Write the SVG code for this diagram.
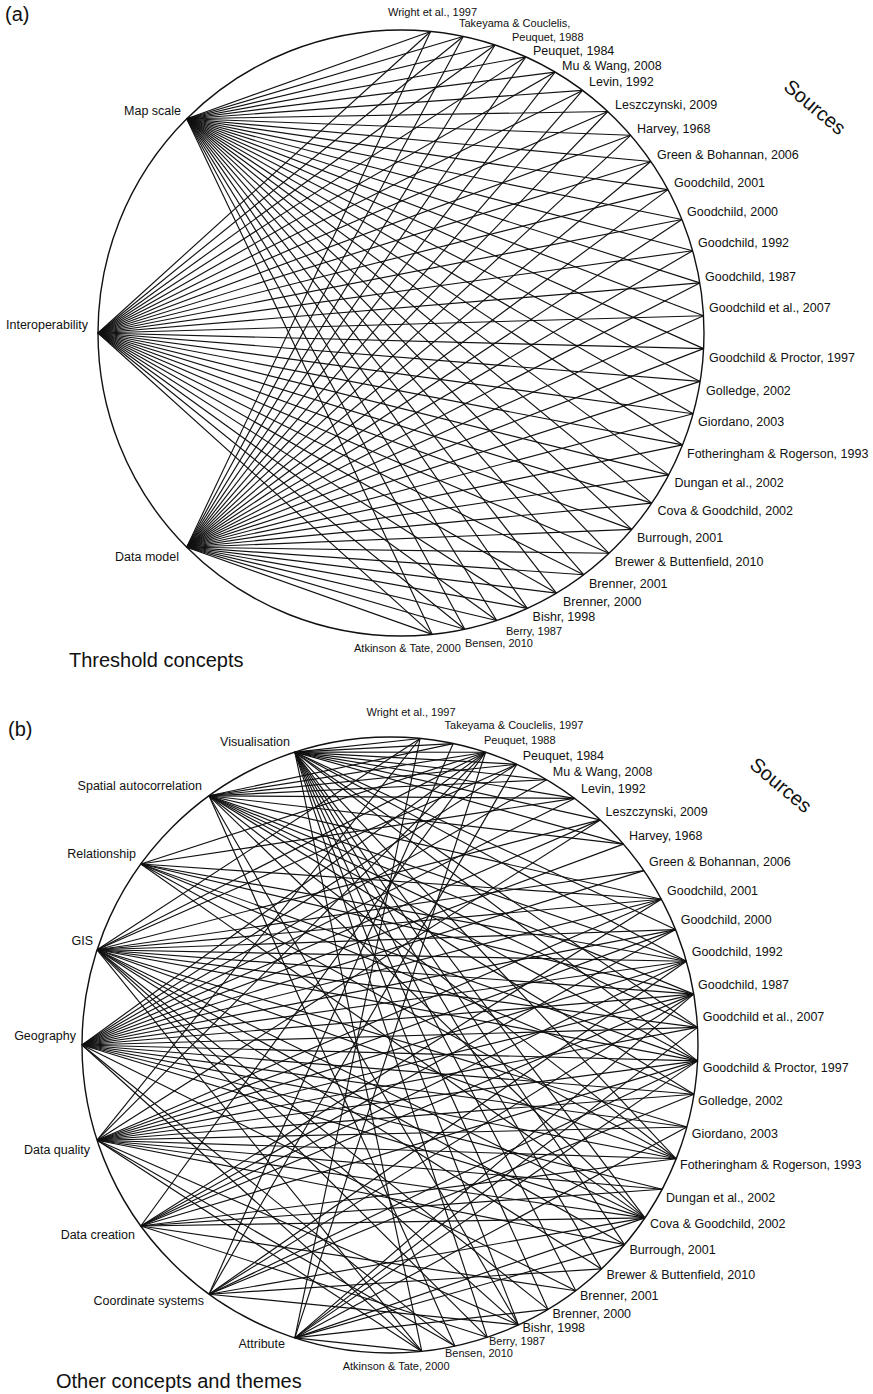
<svg xmlns="http://www.w3.org/2000/svg" width="873" height="1394" viewBox="0 0 873 1394">
<style>
.ln{stroke:#111;stroke-width:1.15;fill:none}
.ring{fill:none;stroke:#111;stroke-width:1.4}
text{font-family:"Liberation Sans",Arial,Helvetica,sans-serif;fill:#111}
.src{font-size:12.5px}
.sm{font-size:11px}
.cpt{font-size:12.5px;text-anchor:end}
.big{font-size:20px}
.mid{text-anchor:middle}
</style>
<rect width="873" height="1394" fill="#fff"/>

<!-- ================= PANEL A ================= -->
<g id="panel-a">
<text class="big" x="5" y="21">(a)</text>
<text class="big" x="69" y="667">Threshold concepts</text>
<text class="big mid" font-size="19" transform="translate(815 107) rotate(40)" dy="0.35em">Sources</text>
<circle class="ring" cx="401" cy="333" r="303"/>

<g id="a-connectors">
<g id="a-edges-mapscale">
<line class="ln" x1="186.7" y1="118.7" x2="430.6" y2="31.5"/>
<line class="ln" x1="186.7" y1="118.7" x2="463.2" y2="36.5"/>
<line class="ln" x1="186.7" y1="118.7" x2="495.0" y2="45.0"/>
<line class="ln" x1="186.7" y1="118.7" x2="525.8" y2="56.9"/>
<line class="ln" x1="186.7" y1="118.7" x2="555.1" y2="72.1"/>
<line class="ln" x1="186.7" y1="118.7" x2="582.5" y2="90.4"/>
<line class="ln" x1="186.7" y1="118.7" x2="607.8" y2="111.5"/>
<line class="ln" x1="186.7" y1="118.7" x2="630.6" y2="135.3"/>
<line class="ln" x1="186.7" y1="118.7" x2="650.8" y2="161.5"/>
<line class="ln" x1="186.7" y1="118.7" x2="668.0" y2="189.6"/>
<line class="ln" x1="186.7" y1="118.7" x2="681.9" y2="219.5"/>
<line class="ln" x1="186.7" y1="118.7" x2="692.6" y2="250.7"/>
<line class="ln" x1="186.7" y1="118.7" x2="699.8" y2="282.9"/>
<line class="ln" x1="186.7" y1="118.7" x2="703.5" y2="315.7"/>
<line class="ln" x1="186.7" y1="118.7" x2="703.6" y2="348.6"/>
<line class="ln" x1="186.7" y1="118.7" x2="700.1" y2="381.4"/>
<line class="ln" x1="186.7" y1="118.7" x2="693.1" y2="413.7"/>
<line class="ln" x1="186.7" y1="118.7" x2="682.6" y2="444.9"/>
<line class="ln" x1="186.7" y1="118.7" x2="668.7" y2="474.9"/>
<line class="ln" x1="186.7" y1="118.7" x2="651.7" y2="503.1"/>
<line class="ln" x1="186.7" y1="118.7" x2="631.7" y2="529.4"/>
<line class="ln" x1="186.7" y1="118.7" x2="609.0" y2="553.3"/>
<line class="ln" x1="186.7" y1="118.7" x2="583.7" y2="574.7"/>
<line class="ln" x1="186.7" y1="118.7" x2="556.4" y2="593.1"/>
<line class="ln" x1="186.7" y1="118.7" x2="527.3" y2="608.4"/>
<line class="ln" x1="186.7" y1="118.7" x2="496.7" y2="620.5"/>
<line class="ln" x1="186.7" y1="118.7" x2="464.8" y2="629.2"/>
<line class="ln" x1="186.7" y1="118.7" x2="432.2" y2="634.4"/>
</g>
<g id="a-edges-interop">
<line class="ln" x1="98" y1="333" x2="430.6" y2="31.5"/>
<line class="ln" x1="98" y1="333" x2="463.2" y2="36.5"/>
<line class="ln" x1="98" y1="333" x2="495.0" y2="45.0"/>
<line class="ln" x1="98" y1="333" x2="525.8" y2="56.9"/>
<line class="ln" x1="98" y1="333" x2="555.1" y2="72.1"/>
<line class="ln" x1="98" y1="333" x2="582.5" y2="90.4"/>
<line class="ln" x1="98" y1="333" x2="607.8" y2="111.5"/>
<line class="ln" x1="98" y1="333" x2="630.6" y2="135.3"/>
<line class="ln" x1="98" y1="333" x2="650.8" y2="161.5"/>
<line class="ln" x1="98" y1="333" x2="668.0" y2="189.6"/>
<line class="ln" x1="98" y1="333" x2="681.9" y2="219.5"/>
<line class="ln" x1="98" y1="333" x2="692.6" y2="250.7"/>
<line class="ln" x1="98" y1="333" x2="699.8" y2="282.9"/>
<line class="ln" x1="98" y1="333" x2="703.5" y2="315.7"/>
<line class="ln" x1="98" y1="333" x2="703.6" y2="348.6"/>
<line class="ln" x1="98" y1="333" x2="700.1" y2="381.4"/>
<line class="ln" x1="98" y1="333" x2="693.1" y2="413.7"/>
<line class="ln" x1="98" y1="333" x2="682.6" y2="444.9"/>
<line class="ln" x1="98" y1="333" x2="668.7" y2="474.9"/>
<line class="ln" x1="98" y1="333" x2="651.7" y2="503.1"/>
<line class="ln" x1="98" y1="333" x2="631.7" y2="529.4"/>
<line class="ln" x1="98" y1="333" x2="609.0" y2="553.3"/>
<line class="ln" x1="98" y1="333" x2="583.7" y2="574.7"/>
<line class="ln" x1="98" y1="333" x2="556.4" y2="593.1"/>
<line class="ln" x1="98" y1="333" x2="527.3" y2="608.4"/>
<line class="ln" x1="98" y1="333" x2="496.7" y2="620.5"/>
<line class="ln" x1="98" y1="333" x2="464.8" y2="629.2"/>
<line class="ln" x1="98" y1="333" x2="432.2" y2="634.4"/>
</g>
<g id="a-edges-datamodel">
<line class="ln" x1="186.7" y1="547.3" x2="430.6" y2="31.5"/>
<line class="ln" x1="186.7" y1="547.3" x2="463.2" y2="36.5"/>
<line class="ln" x1="186.7" y1="547.3" x2="495.0" y2="45.0"/>
<line class="ln" x1="186.7" y1="547.3" x2="525.8" y2="56.9"/>
<line class="ln" x1="186.7" y1="547.3" x2="555.1" y2="72.1"/>
<line class="ln" x1="186.7" y1="547.3" x2="582.5" y2="90.4"/>
<line class="ln" x1="186.7" y1="547.3" x2="607.8" y2="111.5"/>
<line class="ln" x1="186.7" y1="547.3" x2="630.6" y2="135.3"/>
<line class="ln" x1="186.7" y1="547.3" x2="650.8" y2="161.5"/>
<line class="ln" x1="186.7" y1="547.3" x2="668.0" y2="189.6"/>
<line class="ln" x1="186.7" y1="547.3" x2="681.9" y2="219.5"/>
<line class="ln" x1="186.7" y1="547.3" x2="692.6" y2="250.7"/>
<line class="ln" x1="186.7" y1="547.3" x2="699.8" y2="282.9"/>
<line class="ln" x1="186.7" y1="547.3" x2="703.5" y2="315.7"/>
<line class="ln" x1="186.7" y1="547.3" x2="703.6" y2="348.6"/>
<line class="ln" x1="186.7" y1="547.3" x2="700.1" y2="381.4"/>
<line class="ln" x1="186.7" y1="547.3" x2="693.1" y2="413.7"/>
<line class="ln" x1="186.7" y1="547.3" x2="682.6" y2="444.9"/>
<line class="ln" x1="186.7" y1="547.3" x2="668.7" y2="474.9"/>
<line class="ln" x1="186.7" y1="547.3" x2="651.7" y2="503.1"/>
<line class="ln" x1="186.7" y1="547.3" x2="631.7" y2="529.4"/>
<line class="ln" x1="186.7" y1="547.3" x2="609.0" y2="553.3"/>
<line class="ln" x1="186.7" y1="547.3" x2="583.7" y2="574.7"/>
<line class="ln" x1="186.7" y1="547.3" x2="556.4" y2="593.1"/>
<line class="ln" x1="186.7" y1="547.3" x2="527.3" y2="608.4"/>
<line class="ln" x1="186.7" y1="547.3" x2="496.7" y2="620.5"/>
<line class="ln" x1="186.7" y1="547.3" x2="464.8" y2="629.2"/>
<line class="ln" x1="186.7" y1="547.3" x2="432.2" y2="634.4"/>
</g>
</g>

<g id="a-concept-mapscale"><text class="cpt" x="181" y="115">Map scale</text></g>
<g id="a-concept-interoperability"><text class="cpt" x="88" y="329">Interoperability</text></g>
<g id="a-concept-datamodel"><text class="cpt" x="179" y="561">Data model</text></g>

<g id="a-src-0"><text class="sm" x="388" y="16">Wright et al., 1997</text></g>
<g id="a-src-1"><text class="sm" x="459" y="27">Takeyama &amp; Couclelis,</text></g>
<g id="a-src-2"><text class="sm" x="512" y="41">Peuquet, 1988</text></g>
<g id="a-src-3"><text class="src" x="533" y="55">Peuquet, 1984</text></g>
<g id="a-src-4"><text class="src" x="562" y="70">Mu &amp; Wang, 2008</text></g>
<g id="a-src-5"><text class="src" x="589" y="86">Levin, 1992</text></g>
<g id="a-src-6"><text class="src" x="615" y="109">Leszczynski, 2009</text></g>
<g id="a-src-7"><text class="src" x="637" y="133">Harvey, 1968</text></g>
<g id="a-src-8"><text class="src" x="657" y="159">Green &amp; Bohannan, 2006</text></g>
<g id="a-src-9"><text class="src" x="674" y="187">Goodchild, 2001</text></g>
<g id="a-src-10"><text class="src" x="687" y="216">Goodchild, 2000</text></g>
<g id="a-src-11"><text class="src" x="698" y="247">Goodchild, 1992</text></g>
<g id="a-src-12"><text class="src" x="705" y="281">Goodchild, 1987</text></g>
<g id="a-src-13"><text class="src" x="709" y="312">Goodchild et al., 2007</text></g>
<g id="a-src-14"><text class="src" x="709" y="362">Goodchild &amp; Proctor, 1997</text></g>
<g id="a-src-15"><text class="src" x="706" y="395">Golledge, 2002</text></g>
<g id="a-src-16"><text class="src" x="698" y="426">Giordano, 2003</text></g>
<g id="a-src-17"><text class="src" x="687" y="458">Fotheringham &amp; Rogerson, 1993</text></g>
<g id="a-src-18"><text class="src" x="674.5" y="487">Dungan et al., 2002</text></g>
<g id="a-src-19"><text class="src" x="657.5" y="515">Cova &amp; Goodchild, 2002</text></g>
<g id="a-src-20"><text class="src" x="637" y="542">Burrough, 2001</text></g>
<g id="a-src-21"><text class="src" x="614.7" y="566">Brewer &amp; Buttenfield, 2010</text></g>
<g id="a-src-22"><text class="src" x="589" y="588">Brenner, 2001</text></g>
<g id="a-src-23"><text class="src" x="563" y="606">Brenner, 2000</text></g>
<g id="a-src-24"><text class="src" x="532.6" y="621">Bishr, 1998</text></g>
<g id="a-src-25"><text class="sm" x="506" y="634.5" font-size="10.5">Berry, 1987</text></g>
<g id="a-src-26"><text class="sm" x="465" y="646.5" font-size="10.5">Bensen, 2010</text></g>
<g id="a-src-27"><text class="sm" x="354" y="652" font-size="10.5">Atkinson &amp; Tate, 2000</text></g>
</g>

<!-- ================= PANEL B ================= -->
<g id="panel-b">
<text class="big" x="8" y="736">(b)</text>
<text class="big" x="56" y="1388">Other concepts and themes</text>
<text class="big mid" font-size="19" transform="translate(781 785) rotate(40)" dy="0.35em">Sources</text>
<circle class="ring" cx="390" cy="1045" r="308"/>

<g id="b-connectors">
<g id="b-edges-visualisation">
<line class="ln" x1="294.8" y1="752.1" x2="420.1" y2="738.5"/>
<line class="ln" x1="294.8" y1="752.1" x2="453.2" y2="743.6"/>
<line class="ln" x1="294.8" y1="752.1" x2="485.6" y2="752.2"/>
<line class="ln" x1="294.8" y1="752.1" x2="516.8" y2="764.3"/>
<line class="ln" x1="294.8" y1="752.1" x2="546.6" y2="779.8"/>
<line class="ln" x1="294.8" y1="752.1" x2="574.5" y2="798.4"/>
<line class="ln" x1="294.8" y1="752.1" x2="600.2" y2="819.9"/>
<line class="ln" x1="294.8" y1="752.1" x2="623.4" y2="844.1"/>
<line class="ln" x1="294.8" y1="752.1" x2="675.6" y2="929.6"/>
<line class="ln" x1="294.8" y1="752.1" x2="686.4" y2="961.3"/>
<line class="ln" x1="294.8" y1="752.1" x2="697.5" y2="1027.4"/>
<line class="ln" x1="294.8" y1="752.1" x2="697.6" y2="1060.9"/>
<line class="ln" x1="294.8" y1="752.1" x2="676.2" y2="1158.8"/>
<line class="ln" x1="294.8" y1="752.1" x2="644.9" y2="1217.9"/>
<line class="ln" x1="294.8" y1="752.1" x2="624.5" y2="1244.6"/>
<line class="ln" x1="294.8" y1="752.1" x2="601.5" y2="1268.9"/>
<line class="ln" x1="294.8" y1="752.1" x2="575.8" y2="1290.7"/>
<line class="ln" x1="294.8" y1="752.1" x2="548.0" y2="1309.4"/>
<line class="ln" x1="294.8" y1="752.1" x2="518.4" y2="1325.0"/>
<line class="ln" x1="294.8" y1="752.1" x2="487.2" y2="1337.3"/>
<line class="ln" x1="294.8" y1="752.1" x2="421.8" y2="1351.4"/>
</g>
<g id="b-edges-spatial">
<line class="ln" x1="209.0" y1="795.8" x2="453.2" y2="743.6"/>
<line class="ln" x1="209.0" y1="795.8" x2="485.6" y2="752.2"/>
<line class="ln" x1="209.0" y1="795.8" x2="516.8" y2="764.3"/>
<line class="ln" x1="209.0" y1="795.8" x2="546.6" y2="779.8"/>
<line class="ln" x1="209.0" y1="795.8" x2="574.5" y2="798.4"/>
<line class="ln" x1="209.0" y1="795.8" x2="623.4" y2="844.1"/>
<line class="ln" x1="209.0" y1="795.8" x2="661.3" y2="899.3"/>
<line class="ln" x1="209.0" y1="795.8" x2="686.4" y2="961.3"/>
<line class="ln" x1="209.0" y1="795.8" x2="693.7" y2="994.1"/>
<line class="ln" x1="209.0" y1="795.8" x2="697.5" y2="1027.4"/>
<line class="ln" x1="209.0" y1="795.8" x2="697.6" y2="1060.9"/>
<line class="ln" x1="209.0" y1="795.8" x2="694.0" y2="1094.2"/>
<line class="ln" x1="209.0" y1="795.8" x2="676.2" y2="1158.8"/>
<line class="ln" x1="209.0" y1="795.8" x2="644.9" y2="1217.9"/>
<line class="ln" x1="209.0" y1="795.8" x2="518.4" y2="1325.0"/>
<line class="ln" x1="209.0" y1="795.8" x2="454.9" y2="1346.1"/>
</g>
<g id="b-edges-relationship">
<line class="ln" x1="140.8" y1="864.0" x2="485.6" y2="752.2"/>
<line class="ln" x1="140.8" y1="864.0" x2="574.5" y2="798.4"/>
<line class="ln" x1="140.8" y1="864.0" x2="661.3" y2="899.3"/>
<line class="ln" x1="140.8" y1="864.0" x2="686.4" y2="961.3"/>
<line class="ln" x1="140.8" y1="864.0" x2="693.7" y2="994.1"/>
<line class="ln" x1="140.8" y1="864.0" x2="697.6" y2="1060.9"/>
<line class="ln" x1="140.8" y1="864.0" x2="694.0" y2="1094.2"/>
<line class="ln" x1="140.8" y1="864.0" x2="676.2" y2="1158.8"/>
<line class="ln" x1="140.8" y1="864.0" x2="644.9" y2="1217.9"/>
</g>
<g id="b-edges-gis">
<line class="ln" x1="97.1" y1="949.8" x2="420.1" y2="738.5"/>
<line class="ln" x1="97.1" y1="949.8" x2="485.6" y2="752.2"/>
<line class="ln" x1="97.1" y1="949.8" x2="516.8" y2="764.3"/>
<line class="ln" x1="97.1" y1="949.8" x2="600.2" y2="819.9"/>
<line class="ln" x1="97.1" y1="949.8" x2="643.9" y2="870.6"/>
<line class="ln" x1="97.1" y1="949.8" x2="661.3" y2="899.3"/>
<line class="ln" x1="97.1" y1="949.8" x2="675.6" y2="929.6"/>
<line class="ln" x1="97.1" y1="949.8" x2="686.4" y2="961.3"/>
<line class="ln" x1="97.1" y1="949.8" x2="693.7" y2="994.1"/>
<line class="ln" x1="97.1" y1="949.8" x2="697.5" y2="1027.4"/>
<line class="ln" x1="97.1" y1="949.8" x2="697.6" y2="1060.9"/>
<line class="ln" x1="97.1" y1="949.8" x2="686.9" y2="1127.0"/>
<line class="ln" x1="97.1" y1="949.8" x2="676.2" y2="1158.8"/>
<line class="ln" x1="97.1" y1="949.8" x2="644.9" y2="1217.9"/>
<line class="ln" x1="97.1" y1="949.8" x2="624.5" y2="1244.6"/>
<line class="ln" x1="97.1" y1="949.8" x2="601.5" y2="1268.9"/>
<line class="ln" x1="97.1" y1="949.8" x2="548.0" y2="1309.4"/>
<line class="ln" x1="97.1" y1="949.8" x2="518.4" y2="1325.0"/>
<line class="ln" x1="97.1" y1="949.8" x2="487.2" y2="1337.3"/>
<line class="ln" x1="97.1" y1="949.8" x2="421.8" y2="1351.4"/>
</g>
<g id="b-edges-geography">
<line class="ln" x1="82.0" y1="1045.0" x2="485.6" y2="752.2"/>
<line class="ln" x1="82.0" y1="1045.0" x2="516.8" y2="764.3"/>
<line class="ln" x1="82.0" y1="1045.0" x2="546.6" y2="779.8"/>
<line class="ln" x1="82.0" y1="1045.0" x2="574.5" y2="798.4"/>
<line class="ln" x1="82.0" y1="1045.0" x2="600.2" y2="819.9"/>
<line class="ln" x1="82.0" y1="1045.0" x2="623.4" y2="844.1"/>
<line class="ln" x1="82.0" y1="1045.0" x2="643.9" y2="870.6"/>
<line class="ln" x1="82.0" y1="1045.0" x2="661.3" y2="899.3"/>
<line class="ln" x1="82.0" y1="1045.0" x2="675.6" y2="929.6"/>
<line class="ln" x1="82.0" y1="1045.0" x2="686.4" y2="961.3"/>
<line class="ln" x1="82.0" y1="1045.0" x2="693.7" y2="994.1"/>
<line class="ln" x1="82.0" y1="1045.0" x2="697.5" y2="1027.4"/>
<line class="ln" x1="82.0" y1="1045.0" x2="697.6" y2="1060.9"/>
<line class="ln" x1="82.0" y1="1045.0" x2="694.0" y2="1094.2"/>
<line class="ln" x1="82.0" y1="1045.0" x2="686.9" y2="1127.0"/>
<line class="ln" x1="82.0" y1="1045.0" x2="676.2" y2="1158.8"/>
<line class="ln" x1="82.0" y1="1045.0" x2="662.2" y2="1189.2"/>
<line class="ln" x1="82.0" y1="1045.0" x2="644.9" y2="1217.9"/>
<line class="ln" x1="82.0" y1="1045.0" x2="575.8" y2="1290.7"/>
<line class="ln" x1="82.0" y1="1045.0" x2="454.9" y2="1346.1"/>
<line class="ln" x1="82.0" y1="1045.0" x2="421.8" y2="1351.4"/>
</g>
<g id="b-edges-dataquality">
<line class="ln" x1="97.1" y1="1140.2" x2="420.1" y2="738.5"/>
<line class="ln" x1="97.1" y1="1140.2" x2="485.6" y2="752.2"/>
<line class="ln" x1="97.1" y1="1140.2" x2="600.2" y2="819.9"/>
<line class="ln" x1="97.1" y1="1140.2" x2="661.3" y2="899.3"/>
<line class="ln" x1="97.1" y1="1140.2" x2="675.6" y2="929.6"/>
<line class="ln" x1="97.1" y1="1140.2" x2="686.4" y2="961.3"/>
<line class="ln" x1="97.1" y1="1140.2" x2="693.7" y2="994.1"/>
<line class="ln" x1="97.1" y1="1140.2" x2="697.5" y2="1027.4"/>
<line class="ln" x1="97.1" y1="1140.2" x2="697.6" y2="1060.9"/>
<line class="ln" x1="97.1" y1="1140.2" x2="694.0" y2="1094.2"/>
<line class="ln" x1="97.1" y1="1140.2" x2="686.9" y2="1127.0"/>
<line class="ln" x1="97.1" y1="1140.2" x2="676.2" y2="1158.8"/>
<line class="ln" x1="97.1" y1="1140.2" x2="662.2" y2="1189.2"/>
<line class="ln" x1="97.1" y1="1140.2" x2="644.9" y2="1217.9"/>
<line class="ln" x1="97.1" y1="1140.2" x2="624.5" y2="1244.6"/>
<line class="ln" x1="97.1" y1="1140.2" x2="518.4" y2="1325.0"/>
<line class="ln" x1="97.1" y1="1140.2" x2="454.9" y2="1346.1"/>
<line class="ln" x1="97.1" y1="1140.2" x2="421.8" y2="1351.4"/>
</g>
<g id="b-edges-datacreation">
<line class="ln" x1="140.8" y1="1226.0" x2="485.6" y2="752.2"/>
<line class="ln" x1="140.8" y1="1226.0" x2="661.3" y2="899.3"/>
<line class="ln" x1="140.8" y1="1226.0" x2="675.6" y2="929.6"/>
<line class="ln" x1="140.8" y1="1226.0" x2="686.4" y2="961.3"/>
<line class="ln" x1="140.8" y1="1226.0" x2="693.7" y2="994.1"/>
<line class="ln" x1="140.8" y1="1226.0" x2="697.6" y2="1060.9"/>
<line class="ln" x1="140.8" y1="1226.0" x2="676.2" y2="1158.8"/>
<line class="ln" x1="140.8" y1="1226.0" x2="662.2" y2="1189.2"/>
<line class="ln" x1="140.8" y1="1226.0" x2="644.9" y2="1217.9"/>
<line class="ln" x1="140.8" y1="1226.0" x2="575.8" y2="1290.7"/>
<line class="ln" x1="140.8" y1="1226.0" x2="487.2" y2="1337.3"/>
</g>
<g id="b-edges-coordinates">
<line class="ln" x1="209.0" y1="1294.2" x2="453.2" y2="743.6"/>
<line class="ln" x1="209.0" y1="1294.2" x2="516.8" y2="764.3"/>
<line class="ln" x1="209.0" y1="1294.2" x2="686.4" y2="961.3"/>
<line class="ln" x1="209.0" y1="1294.2" x2="693.7" y2="994.1"/>
<line class="ln" x1="209.0" y1="1294.2" x2="697.6" y2="1060.9"/>
<line class="ln" x1="209.0" y1="1294.2" x2="694.0" y2="1094.2"/>
<line class="ln" x1="209.0" y1="1294.2" x2="644.9" y2="1217.9"/>
<line class="ln" x1="209.0" y1="1294.2" x2="601.5" y2="1268.9"/>
<line class="ln" x1="209.0" y1="1294.2" x2="518.4" y2="1325.0"/>
</g>
<g id="b-edges-attribute">
<line class="ln" x1="294.8" y1="1337.9" x2="420.1" y2="738.5"/>
<line class="ln" x1="294.8" y1="1337.9" x2="485.6" y2="752.2"/>
<line class="ln" x1="294.8" y1="1337.9" x2="693.7" y2="994.1"/>
<line class="ln" x1="294.8" y1="1337.9" x2="697.5" y2="1027.4"/>
<line class="ln" x1="294.8" y1="1337.9" x2="697.6" y2="1060.9"/>
<line class="ln" x1="294.8" y1="1337.9" x2="686.9" y2="1127.0"/>
<line class="ln" x1="294.8" y1="1337.9" x2="644.9" y2="1217.9"/>
<line class="ln" x1="294.8" y1="1337.9" x2="624.5" y2="1244.6"/>
<line class="ln" x1="294.8" y1="1337.9" x2="548.0" y2="1309.4"/>
<line class="ln" x1="294.8" y1="1337.9" x2="421.8" y2="1351.4"/>
</g>
</g>

<g id="b-concept-visualisation"><text class="cpt" x="290" y="746">Visualisation</text></g>
<g id="b-concept-spatial"><text class="cpt" x="202" y="790">Spatial autocorrelation</text></g>
<g id="b-concept-relationship"><text class="cpt" x="136" y="858">Relationship</text></g>
<g id="b-concept-gis"><text class="cpt" x="93" y="945">GIS</text></g>
<g id="b-concept-geography"><text class="cpt" x="76" y="1040">Geography</text></g>
<g id="b-concept-dataquality"><text class="cpt" x="90" y="1154">Data quality</text></g>
<g id="b-concept-datacreation"><text class="cpt" x="135" y="1239">Data creation</text></g>
<g id="b-concept-coordinates"><text class="cpt" x="204" y="1305">Coordinate systems</text></g>
<g id="b-concept-attribute"><text class="cpt" x="285" y="1348">Attribute</text></g>

<g id="b-src-0"><text class="sm" x="366.5" y="716" font-size="11.5">Wright et al., 1997</text></g>
<g id="b-src-1"><text class="sm" x="444.6" y="729" font-size="11.5">Takeyama &amp; Couclelis, 1997</text></g>
<g id="b-src-2"><text class="sm" x="484" y="744" font-size="11.5">Peuquet, 1988</text></g>
<g id="b-src-3"><text class="src" x="522.7" y="760">Peuquet, 1984</text></g>
<g id="b-src-4"><text class="src" x="552.8" y="776">Mu &amp; Wang, 2008</text></g>
<g id="b-src-5"><text class="src" x="581" y="793">Levin, 1992</text></g>
<g id="b-src-6"><text class="src" x="605.6" y="816">Leszczynski, 2009</text></g>
<g id="b-src-7"><text class="src" x="629" y="840">Harvey, 1968</text></g>
<g id="b-src-8"><text class="src" x="649" y="866">Green &amp; Bohannan, 2006</text></g>
<g id="b-src-9"><text class="src" x="667" y="895">Goodchild, 2001</text></g>
<g id="b-src-10"><text class="src" x="680.7" y="924">Goodchild, 2000</text></g>
<g id="b-src-11"><text class="src" x="691.7" y="956">Goodchild, 1992</text></g>
<g id="b-src-12"><text class="src" x="698" y="989">Goodchild, 1987</text></g>
<g id="b-src-13"><text class="src" x="702.7" y="1021">Goodchild et al., 2007</text></g>
<g id="b-src-14"><text class="src" x="702.7" y="1072">Goodchild &amp; Proctor, 1997</text></g>
<g id="b-src-15"><text class="src" x="698" y="1105">Golledge, 2002</text></g>
<g id="b-src-16"><text class="src" x="691.7" y="1138">Giordano, 2003</text></g>
<g id="b-src-17"><text class="src" x="680" y="1169">Fotheringham &amp; Rogerson, 1993</text></g>
<g id="b-src-18"><text class="src" x="666" y="1202">Dungan et al., 2002</text></g>
<g id="b-src-19"><text class="src" x="650" y="1228">Cova &amp; Goodchild, 2002</text></g>
<g id="b-src-20"><text class="src" x="629.5" y="1254">Burrough, 2001</text></g>
<g id="b-src-21"><text class="src" x="606.4" y="1279">Brewer &amp; Buttenfield, 2010</text></g>
<g id="b-src-22"><text class="src" x="580" y="1300">Brenner, 2001</text></g>
<g id="b-src-23"><text class="src" x="552.5" y="1318">Brenner, 2000</text></g>
<g id="b-src-24"><text class="src" x="522.5" y="1332.2">Bishr, 1998</text></g>
<g id="b-src-25"><text class="sm" x="489" y="1344.8" font-size="11">Berry, 1987</text></g>
<g id="b-src-26"><text class="sm" x="445" y="1357.1" font-size="11">Bensen, 2010</text></g>
<g id="b-src-27"><text class="sm" x="342.7" y="1370" font-size="11.5">Atkinson &amp; Tate, 2000</text></g>
</g>
</svg>
